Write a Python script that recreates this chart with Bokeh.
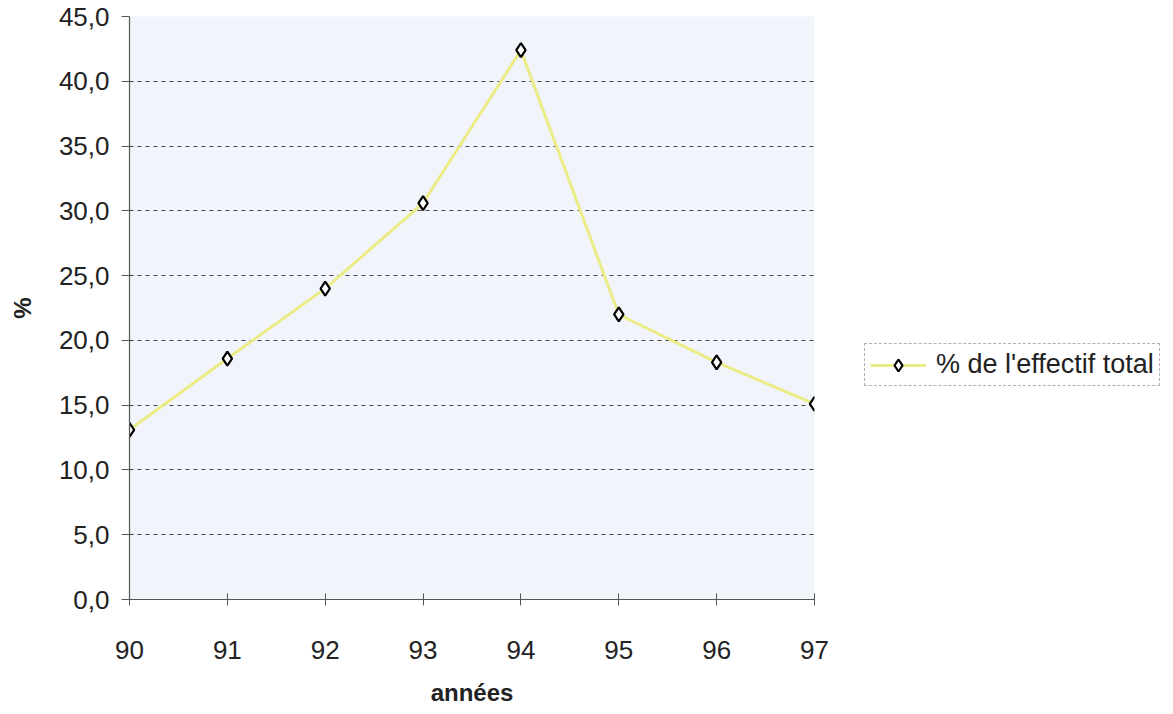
from bokeh.plotting import figure
from bokeh.models import Range1d, FixedTicker, CustomJSTickFormatter, Legend, LegendItem
from bokeh.embed import file_html
from bokeh.resources import INLINE

years = [90, 91, 92, 93, 94, 95, 96, 97]
values = [13.1, 18.6, 24.0, 30.6, 42.4, 22.0, 18.3, 15.1]
y_ticks = [0, 5, 10, 15, 20, 25, 30, 35, 40, 45]
series_name = "% de l'effectif total"

FONT = "Liberation Sans"

p = figure(frame_width=685, frame_height=583, output_backend="svg", toolbar_location=None,
           x_range=Range1d(90, 97), y_range=Range1d(0, 45),
           min_border_left=129, min_border_top=16, min_border_bottom=99,
           min_border_right=0)

p.background_fill_color = "#f1f4fa"
p.border_fill_color = "white"
p.outline_line_color = None

ln = p.line(years, values, line_color="#ecec86", line_width=3)
sc = p.scatter(years, values, marker="diamond", size=14, fill_color="white",
               line_color="black", line_width=2.2)

# axes
p.xaxis.ticker = FixedTicker(ticks=years)
p.yaxis.ticker = FixedTicker(ticks=y_ticks)
p.yaxis.formatter = CustomJSTickFormatter(code="return tick.toFixed(1).replace('.', ',');")
for ax in (p.xaxis[0], p.yaxis[0]):
    ax.axis_line_color = "#555555"
    ax.axis_line_width = 1.2
    ax.major_tick_line_color = "#555555"
    ax.minor_tick_line_color = None
    ax.major_label_text_font = FONT
    ax.major_label_text_font_size = "26px"
    ax.major_label_text_color = "#222222"
    ax.axis_label_text_font = FONT
    ax.axis_label_text_font_style = "bold"
    ax.axis_label_text_font_size = "24px"
    ax.axis_label_text_color = "#222222"

p.xaxis.major_tick_in = 6
p.xaxis.major_tick_out = 6
p.xaxis.major_label_standoff = 35
p.xaxis.axis_label = "années"
p.xaxis.axis_label_standoff = 17

p.yaxis.major_tick_in = 0
p.yaxis.major_tick_out = 8
p.yaxis.major_label_standoff = 12
p.yaxis.axis_label = "%"
p.yaxis.axis_label_standoff = 20

p.xgrid.grid_line_color = None
p.ygrid.grid_line_color = "#444444"
p.ygrid.grid_line_dash = "4 4"
p.ygrid.grid_line_width = 1

legend = Legend(items=[LegendItem(label=series_name, renderers=[ln, sc])],
                location=(50, 213))
legend.label_text_font = FONT
legend.label_text_font_size = "27px"
legend.label_text_color = "#222222"
legend.border_line_color = "#666666"
legend.border_line_width = 1
legend.border_line_dash = "2 1"
legend.background_fill_color = "white"
legend.glyph_width = 56
legend.glyph_height = 30
legend.label_standoff = 10
legend.padding = 5
legend.margin = 0
p.add_layout(legend, "right")

open("out.html", "w").write(file_html(p, INLINE))
